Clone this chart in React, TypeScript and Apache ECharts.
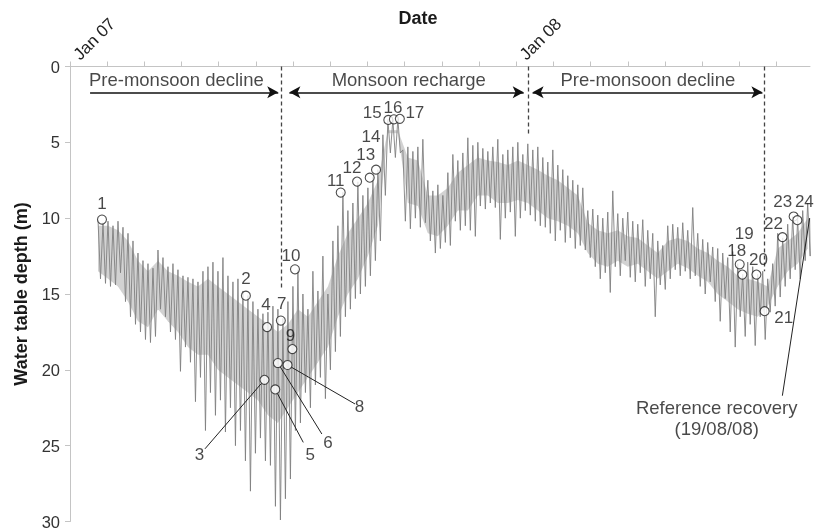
import React, { useEffect, useRef } from 'react';
import * as echarts from 'echarts';

// ---- data (months since 1 Jan 2007, water table depth in m) ----
const tickLabels: Record<number, string> = { 0: 'Jan 07', 12: 'Jan 08' };
const sampleStartMonth = 0.753;
const sampleStepMonth = 0.1344;
const upperDepth = [
  10.1, 10.3, 10.2, 10.5, 10.2, 10.6, 11.0, 11.5, 12.3, 12.8, 13.0, 13.3, 12.1, 12.6, 13.2, 13.0,
  13.4, 13.8, 13.9, 14.0, 14.2, 13.5, 13.2, 12.9, 13.5, 12.6, 13.8, 14.2, 14.0, 14.8, 15.1, 15.5,
  16.0, 16.3, 16.2, 15.8, 16.0, 16.6, 15.5, 14.5, 13.4, 15.0, 16.0, 13.5, 14.8, 12.5, 15.0, 11.5,
  10.5, 8.3, 9.5, 9.0, 7.6, 8.5, 8.0, 7.3, 6.8, 4.5, 3.5, 3.5, 3.45, 5.5, 5.3, 5.6,
  5.3, 4.8, 7.5, 8.2, 7.8, 8.5, 7.0, 5.8, 6.2, 5.7, 4.7, 5.2, 5.0, 5.4, 5.6, 5.3,
  4.8, 5.8, 5.5, 5.3, 5.0, 5.8, 5.1, 5.5, 5.3, 6.0, 6.3, 5.5, 6.5, 6.8, 7.2, 7.5,
  7.8, 8.0, 9.5, 9.4, 9.8, 10.0, 9.6, 8.2, 9.7, 10.0, 9.6, 10.2, 10.4, 10.1, 10.8, 11.0,
  11.5, 11.8, 10.5, 10.4, 10.6, 10.3, 10.8, 9.3, 11.0, 11.4, 11.6, 11.9, 12.0, 12.3, 12.6, 12.2,
  13.0, 13.7, 12.9, 13.2, 13.7, 13.5, 14.0, 13.0, 11.0, 11.3, 10.4, 9.9, 10.1, 9.5, 9.0,
];
const lowerDepth = [
  14.0, 14.3, 14.5, 14.4, 13.6, 15.5, 16.5, 17.0, 17.5, 18.0, 18.2, 17.8, 16.0, 16.5, 17.5, 18.0,
  20.1, 18.5, 19.5, 22.1, 20.5, 24.0, 21.5, 23.0, 22.0, 24.1, 22.5, 25.0, 24.0, 26.0, 28.0, 25.5,
  24.5, 26.0, 26.3, 29.0, 29.9, 28.5, 27.2, 24.0, 23.5, 21.5, 22.5, 21.0, 20.5, 21.9, 20.0, 18.8,
  17.8, 16.5, 16.0, 15.3, 15.0, 14.5, 13.8, 12.8, 11.5, 8.5, 5.7, 6.0, 5.7, 10.2, 10.7, 10.0,
  10.6, 10.3, 11.5, 12.3, 12.0, 11.6, 11.8, 10.2, 10.8, 10.5, 10.8, 11.2, 9.2, 9.4, 9.0, 9.3,
  11.4, 10.0, 9.6, 11.2, 10.0, 9.5, 9.8, 10.2, 10.5, 10.6, 11.0, 11.5, 10.8, 11.6, 11.3, 12.0,
  11.8, 12.1, 12.6, 13.2, 14.0, 13.6, 14.9, 13.2, 13.8, 12.8, 13.9, 14.2, 13.6, 14.5, 14.0, 16.5,
  14.4, 14.7, 14.0, 13.4, 13.8, 13.5, 14.0, 13.8, 14.5, 15.0, 14.2, 15.5, 16.8, 15.3, 17.5, 18.5,
  16.5, 17.8, 17.0, 18.4, 16.5, 18.0, 16.2, 15.8, 15.2, 14.5, 14.0, 13.4, 14.0, 12.8, 12.5,
];
// dense core of the daily fluctuation, sampled every second step
const coreUpper = [
  10.5, 10.5, 10.8, 11.5, 12.8, 13.5, 12.8, 13.5, 13.8, 14.2, 14.5, 14.0, 14.5, 15.0, 15.5, 16.0,
  16.5, 17.0, 17.5, 17.0, 16.0, 16.5, 15.5, 14.5, 12.5, 11.0, 10.0, 9.0, 7.5, 4.2, 4.2, 6.0,
  6.2, 8.5, 8.5, 8.0, 7.0, 6.5, 6.0, 6.2, 6.3, 6.5, 6.2, 6.5, 6.8, 7.2, 7.5, 8.0,
  8.5, 10.3, 10.8, 11.0, 10.8, 11.2, 11.3, 11.8, 12.3, 11.5, 11.3, 11.5, 12.0, 12.3, 12.8, 13.2,
  13.8, 14.0, 14.2, 14.5, 12.0, 11.5, 11.0, 10.0,
];
const coreLower = [
  13.5, 14.0, 14.5, 15.5, 16.8, 17.2, 16.0, 16.8, 17.5, 18.5, 19.0, 19.0, 20.0, 20.5, 21.0, 21.5,
  22.0, 23.0, 23.5, 22.5, 21.5, 20.5, 19.5, 18.5, 16.5, 15.0, 14.0, 12.5, 10.5, 4.4, 4.4, 9.0,
  9.2, 11.0, 11.2, 10.5, 9.5, 9.5, 8.5, 8.5, 9.0, 9.0, 8.8, 9.0, 9.5, 10.0, 10.2, 10.5,
  11.0, 12.3, 13.0, 13.2, 12.8, 13.2, 13.0, 13.5, 14.0, 13.5, 13.0, 13.3, 13.8, 14.2, 15.0, 15.5,
  16.0, 16.3, 16.5, 15.8, 14.5, 13.5, 13.0, 12.0,
];
const recoveryPoint = [19.89, 10.0];

const pointIds = ['1', '2', '3', '4', '5', '6', '7', '8', '9', '10', '11', '12', '13', '14', '15', '16', '17', '18', '19', '20', '21', '22', '23', '24'];
const pointMonth = [0.86, 4.73, 5.23, 5.30, 5.52, 5.59, 5.67, 5.85, 5.98, 6.05, 7.28, 7.72, 8.06, 8.23, 8.56, 8.71, 8.87, 18.01, 18.08, 18.46, 18.68, 19.16, 19.46, 19.56];
const pointDepth = [10.09, 15.11, 20.66, 17.18, 21.29, 19.55, 16.75, 19.68, 18.63, 13.37, 8.31, 7.59, 7.33, 6.80, 3.52, 3.48, 3.45, 13.04, 13.72, 13.72, 16.13, 11.25, 9.89, 10.13];

const phaseNames = ['Pre-monsoon decline', 'Monsoon recharge', 'Pre-monsoon decline'];
const phaseLabelMonth = [2.86, 9.11, 15.54];
const phaseLabelDepth = 0.89;
const phaseArrowFrom = [0.54, 5.9, 12.44];
const phaseArrowTo = [5.6, 12.2, 18.62];
const phaseArrowDepth = 1.7;
const boundaryMonth = [5.67, 12.31, 18.68];
const boundaryEndDepth = [14.7, 4.5, 13.5];

const recoveryText = 'Reference recovery\n(19/08/08)';
const recoveryTextPos = [17.39, 23.19];

// ---- layout (pixels) ----
const labelOffsets: Record<string, number[]> = {
  '1': [0, -16], '2': [0, -17], '3': [-65, 75], '4': [-1, -23], '5': [35, 65], '6': [50, 79],
  '7': [1, -17], '8': [72, 42], '9': [-2, -14], '10': [-4, -14], '11': [-5, -12], '12': [-5, -14],
  '13': [-4, -23], '14': [-5, -33], '15': [-16, -7], '16': [-1, -12], '17': [15, -6],
  '18': [-3, -14], '19': [2, -41], '20': [2, -15], '21': [19, 6], '22': [-9, -14], '23': [-11, -15], '24': [7, -19],
};
const leaderEnds: Record<string, number[]> = {
  '3': [-59.5, 69], '5': [28, 53], '6': [44, 71], '8': [67.5, 39],
};

const FONT = '"Liberation Sans", Arial, Helvetica, sans-serif';

export default function App() {
  const ref = useRef<HTMLDivElement>(null);
  useEffect(() => {
    const chart = echarts.init(ref.current!, null, { renderer: 'svg' });

    const trace: number[][] = [];
    upperDepth.forEach((u, i) => {
      const t = sampleStartMonth + i * sampleStepMonth;
      trace.push([t, u]);
      trace.push([t + sampleStepMonth / 2, lowerDepth[i]]);
    });
    trace.push(recoveryPoint);

    // band segments for the dense core: [x0, up0, low0, x1, up1, low1]
    const coreSegments: number[][] = [];
    for (let i = 0; i < coreUpper.length - 1; i++) {
      const x0 = sampleStartMonth + i * 2 * sampleStepMonth;
      const x1 = sampleStartMonth + (i + 1) * 2 * sampleStepMonth;
      coreSegments.push([x0, coreUpper[i], coreLower[i], x1, coreUpper[i + 1], coreLower[i + 1]]);
    }

    const markData: any[] = [];
    boundaryMonth.forEach((m, i) => {
      markData.push([
        { coord: [m, 0], symbol: 'none', lineStyle: { type: [4, 3], color: '#444', width: 1.3 } },
        { coord: [m, boundaryEndDepth[i]], symbol: 'none' },
      ]);
    });
    phaseArrowFrom.forEach((a, i) => {
      markData.push([
        { coord: [a, phaseArrowDepth], symbol: i === 0 ? 'none' : 'arrow', lineStyle: { type: 'solid', color: '#111', width: 1.5 } },
        { coord: [phaseArrowTo[i], phaseArrowDepth], symbol: 'arrow' },
      ]);
    });

    const option: any = {
      animation: false,
      grid: { left: 70, right: 5, top: 66.5, bottom: 7 },
      xAxis: {
        type: 'value', position: 'top', min: 0, max: 19.9, interval: 1,
        axisLine: { onZero: false, lineStyle: { color: '#c4c4c4', width: 1 } },
        axisTick: { show: true, length: 5, lineStyle: { color: '#c4c4c4' } },
        splitLine: { show: false },
        axisLabel: {
          rotate: -45, margin: 3, padding: [0, 0, 0, 9], fontSize: 17, color: '#222', fontFamily: FONT,
          showMaxLabel: false,
          formatter: (v: number) => tickLabels[Math.round(v)] && Math.abs(v - Math.round(v)) < 1e-6 ? tickLabels[Math.round(v)] : '',
        },
      },
      yAxis: {
        type: 'value', inverse: true, min: 0, max: 30, interval: 5,
        name: 'Water table depth (m)', nameLocation: 'middle', nameGap: 40,
        nameTextStyle: { fontSize: 18, fontWeight: 'bold', color: '#1a1a1a', fontFamily: FONT },
        axisLine: { show: true, lineStyle: { color: '#c4c4c4', width: 1 } },
        axisTick: { show: true, length: 5, lineStyle: { color: '#c4c4c4' } },
        splitLine: { show: false },
        axisLabel: { fontSize: 16.5, color: '#333', margin: 10, fontFamily: FONT },
      },
      series: [
        {
          type: 'custom', name: 'core', silent: true, z: 1,
          data: coreSegments,
          encode: { x: [0, 3], y: [1, 2, 4, 5] },
          renderItem: (_params: any, api: any) => {
            const a = api.coord([api.value(0), api.value(1)]);
            const b = api.coord([api.value(3), api.value(4)]);
            const c = api.coord([api.value(3), api.value(5)]);
            const d = api.coord([api.value(0), api.value(2)]);
            return {
              type: 'polygon',
              shape: { points: [a, b, c, d] },
              style: { fill: 'rgba(95,95,95,0.28)', stroke: 'none' },
            };
          },
        },
        {
          type: 'line', name: 'depth', data: trace, showSymbol: false, symbol: 'none',
          lineStyle: { color: '#808080', width: 0.9 }, z: 2,
          markLine: { silent: true, symbolSize: [9, 11], label: { show: false }, data: markData, z: 3 },
        },
        {
          type: 'scatter', name: 'points', z: 5,
          symbol: 'circle', symbolSize: 9,
          itemStyle: { color: '#fff', borderColor: '#222', borderWidth: 1.1 },
          label: { show: true, position: 'inside', formatter: '{b}', fontSize: 17, color: '#1a1a1a', fontFamily: FONT },
          data: pointIds.map((id, i) => ({ name: id, value: [pointMonth[i], pointDepth[i]], label: { offset: labelOffsets[id] } })),
        },
        {
          type: 'scatter', name: 'texts', z: 6, symbol: 'circle', symbolSize: 1, silent: true,
          itemStyle: { color: 'rgba(0,0,0,0)' },
          label: { show: true, position: 'inside', formatter: '{b}', fontSize: 18.5, color: '#1a1a1a', fontFamily: FONT, lineHeight: 21, align: 'center' },
          data: [
            ...phaseNames.map((n, i) => ({ name: n, value: [phaseLabelMonth[i], phaseLabelDepth] })),
            { name: recoveryText, value: recoveryTextPos },
          ],
        },
      ],
    };
    chart.setOption(option);

    const toPx = (v: number[]) => chart.convertToPixel({ gridIndex: 0 }, v) as number[];
    const graphics: any[] = [
      {
        type: 'text', x: 418, y: 18,
        style: { text: 'Date', fill: '#1a1a1a', font: `bold 18px ${FONT}`, textAlign: 'center', textVerticalAlign: 'middle' },
      },
    ];
    Object.keys(leaderEnds).forEach((id) => {
      const i = pointIds.indexOf(id);
      const c = toPx([pointMonth[i], pointDepth[i]]);
      const d = leaderEnds[id];
      const len = Math.hypot(d[0], d[1]);
      graphics.push({
        type: 'line', z: 4,
        shape: { x1: c[0] + (d[0] / len) * 4.5, y1: c[1] + (d[1] / len) * 4.5, x2: c[0] + d[0], y2: c[1] + d[1] },
        style: { stroke: '#222', lineWidth: 1 },
      });
    });
    const rt = toPx(recoveryTextPos);
    const rp = toPx(recoveryPoint);
    graphics.push({
      type: 'line', z: 4,
      shape: { x1: rt[0] + 65.7, y1: rt[1] - 22.5, x2: rp[0], y2: rp[1] },
      style: { stroke: '#222', lineWidth: 1 },
    });
    chart.setOption({ graphic: graphics });

    return () => chart.dispose();
  }, []);
  return <div ref={ref} style={{ position: 'fixed', left: 0, top: 0, width: 815, height: 530 }} />;
}
